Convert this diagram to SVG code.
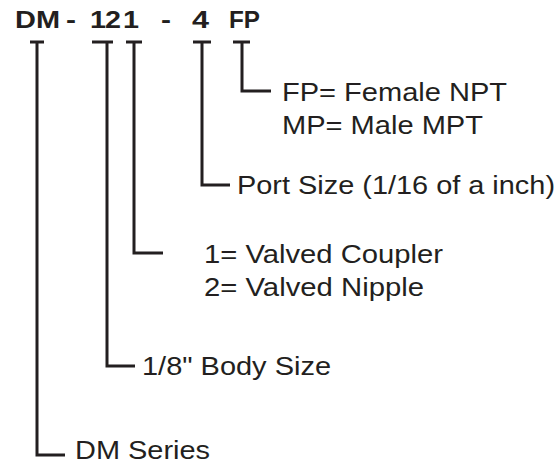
<svg xmlns="http://www.w3.org/2000/svg" width="559" height="465" viewBox="0 0 559 465">
<style>
.t{font-family:"Liberation Sans",Arial,sans-serif;font-size:24px;font-weight:bold;fill:#231f20}
.l{font-family:"Liberation Sans",Arial,sans-serif;font-size:26px;fill:#231f20}
.c{fill:none;stroke:#231f20;stroke-width:3}
</style>
<rect width="559" height="465" fill="#fff"/>
<g id="title">
<text class="t" x="15" y="28" textLength="45" lengthAdjust="spacingAndGlyphs">DM</text>
<text class="t" x="66" y="28" textLength="10" lengthAdjust="spacingAndGlyphs">-</text>
<text class="t" x="90" y="28" textLength="16" lengthAdjust="spacingAndGlyphs">1</text>
<text class="t" x="105" y="28" textLength="16" lengthAdjust="spacingAndGlyphs">2</text>
<text class="t" x="123" y="28" textLength="16" lengthAdjust="spacingAndGlyphs">1</text>
<text class="t" x="161" y="28" textLength="10" lengthAdjust="spacingAndGlyphs">-</text>
<text class="t" x="192" y="28" textLength="17" lengthAdjust="spacingAndGlyphs">4</text>
<text class="t" x="229" y="28" textLength="31" lengthAdjust="spacingAndGlyphs">FP</text>
</g>
<g id="connectors">
<path class="c" d="M30 42H44M37 42V455H65"/>
<path class="c" d="M92 42H113M107 42V366H135"/>
<path class="c" d="M126 42H142M134 42V253H163"/>
<path class="c" d="M193 42H211M202 42V185H230"/>
<path class="c" d="M233 42H250M242 42V91H271"/>
</g>
<g id="fp"><text class="l" x="282" y="101" textLength="225" lengthAdjust="spacingAndGlyphs">FP= Female NPT</text><text class="l" x="282" y="134" textLength="201" lengthAdjust="spacingAndGlyphs">MP= Male MPT</text></g>
<g id="port"><text class="l" x="237" y="194" textLength="318" lengthAdjust="spacingAndGlyphs">Port Size (1/16 of a inch)</text></g>
<g id="valve"><text class="l" x="204" y="263" textLength="239" lengthAdjust="spacingAndGlyphs">1= Valved Coupler</text><text class="l" x="204" y="296" textLength="220" lengthAdjust="spacingAndGlyphs">2= Valved Nipple</text></g>
<g id="body"><text class="l" x="142" y="375" textLength="189" lengthAdjust="spacingAndGlyphs">1/8" Body Size</text></g>
<g id="series"><text class="l" x="75" y="459" textLength="135" lengthAdjust="spacingAndGlyphs">DM Series</text></g>
</svg>
